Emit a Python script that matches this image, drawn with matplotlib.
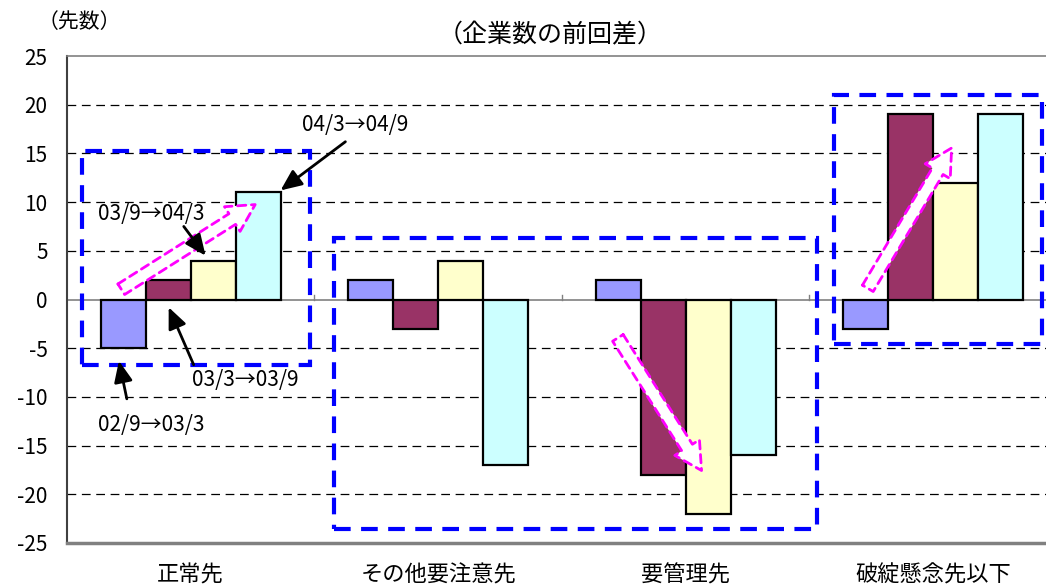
import matplotlib
matplotlib.use("Agg")
import matplotlib.pyplot as plt
import matplotlib.transforms as mtransforms
from matplotlib.patches import Rectangle, FancyArrowPatch
import numpy as np

plt.rcParams['font.family'] = ['Noto Sans CJK JP', 'DejaVu Sans']

categories = ["正常先", "その他要注意先", "要管理先", "破綻懸念先以下"]
periods = ["02/9→03/3", "03/3→03/9", "03/9→04/3", "04/3→04/9"]
changes = {
    "02/9→03/3": [-5, 2, 2, -3],
    "03/3→03/9": [2, -3, -18, 19],
    "03/9→04/3": [4, 4, -22, 12],
    "04/3→04/9": [11, -17, -16, 19],
}
colors = ["#9999FF", "#993366", "#FFFFCC", "#CCFFFF"]
yticks = [25, 20, 15, 10, 5, 0, -5, -10, -15, -20, -25]

fig = plt.figure(figsize=(10.46, 5.86), dpi=100)
ax = fig.add_axes([0.064, 0.0734, 0.9465, 0.831])

x = np.arange(len(categories))
width = 0.182
offsets = (np.arange(4) - 1.5) * width
for k, p in enumerate(periods):
    ax.bar(x + offsets[k], changes[p], width, color=colors[k],
           edgecolor="black", linewidth=1.6, zorder=3)

ax.set_xlim(-0.5, 3.5)
ax.set_ylim(-25, 25)
ax.set_yticks(yticks)
ax.set_yticklabels([str(v) for v in yticks], fontsize=15)
ax.tick_params(axis="y", length=0, pad=14)
ax.set_xticks([])

# category names below the axis
trans = mtransforms.blended_transform_factory(ax.transData, fig.transFigure)
for xi, name in zip(x, categories):
    ax.text(xi, 1 - 575 / 586, name, transform=trans, ha="center", va="center",
            fontsize=16, clip_on=False)

for v in yticks:
    if v in (0, 25, -25):
        continue
    ax.axhline(v, color="black", linewidth=0.9, linestyle=(0, (7, 4.5)), zorder=1)
ax.axhline(0, color="#808080", linewidth=1.2, zorder=2)
for b in (0.5, 1.5, 2.5):
    ax.plot([b, b], [0, 0.5], color="#808080", linewidth=1.0, zorder=2)

ax.spines["right"].set_visible(False)
ax.spines["top"].set_color("#808080")
ax.spines["top"].set_linewidth(1.2)
ax.spines["left"].set_color("#404040")
ax.spines["left"].set_linewidth(1.5)
ax.spines["bottom"].set_color("#808080")
ax.spines["bottom"].set_linewidth(2.5)

# dashed blue group frames
frames = [(-0.44, -6.7, 0.92, 21.9), (0.577, -23.6, 1.955, 29.9), (2.60, -4.6, 0.84, 25.6)]
for (fx, fy, fw, fh) in frames:
    ax.add_patch(Rectangle((fx, fy), fw, fh, fill=False, edgecolor="#0000FF",
                           linewidth=3, linestyle=(0, (4, 2.5)), zorder=5, clip_on=False))

# hollow trend arrows
trends = [((-0.29, 0.9), (0.27, 9.9)), ((1.72, -3.7), (2.07, -17.8)), ((2.73, 0.9), (3.08, 15.8))]
for (s, e) in trends:
    arr = FancyArrowPatch(s, e, arrowstyle="simple,head_width=1.4,head_length=1.3,tail_width=0.6",
                          mutation_scale=15, facecolor="white", edgecolor="#FF00FF",
                          linewidth=2, linestyle=(0, (3, 2)), zorder=6)
    ax.add_patch(arr)

# period labels with pointer arrows
notes = [
    ("04/3→04/9", (0.665, 17.9), (0.625, 16.2), (0.363, 11.2)),
    ("03/9→04/3", (-0.16, 8.8), (-0.028, 7.5), (0.06, 4.5)),
    ("03/3→03/9", (0.22, -8.3), (0.012, -6.7), (-0.089, -0.8)),
    ("02/9→03/3", (-0.16, -12.9), (-0.258, -10.2), (-0.29, -6.3)),
]
for txt, tpos, start, tip in notes:
    ax.text(tpos[0], tpos[1], txt, fontsize=15, ha="center", va="center", zorder=7)
    ax.annotate("", xy=tip, xytext=start,
                arrowprops=dict(arrowstyle="-|>,head_width=0.35,head_length=0.8",
                                color="black", lw=2, mutation_scale=16,
                                shrinkA=0, shrinkB=0),
                zorder=7)

fig.text(0.526, 1 - 35 / 586, "（企業数の前回差）", ha="center", va="center", fontsize=18)
fig.text(0.0755, 1 - 22 / 586, "（先数）", ha="center", va="center", fontsize=15)

fig.savefig("out.png", dpi=100)
